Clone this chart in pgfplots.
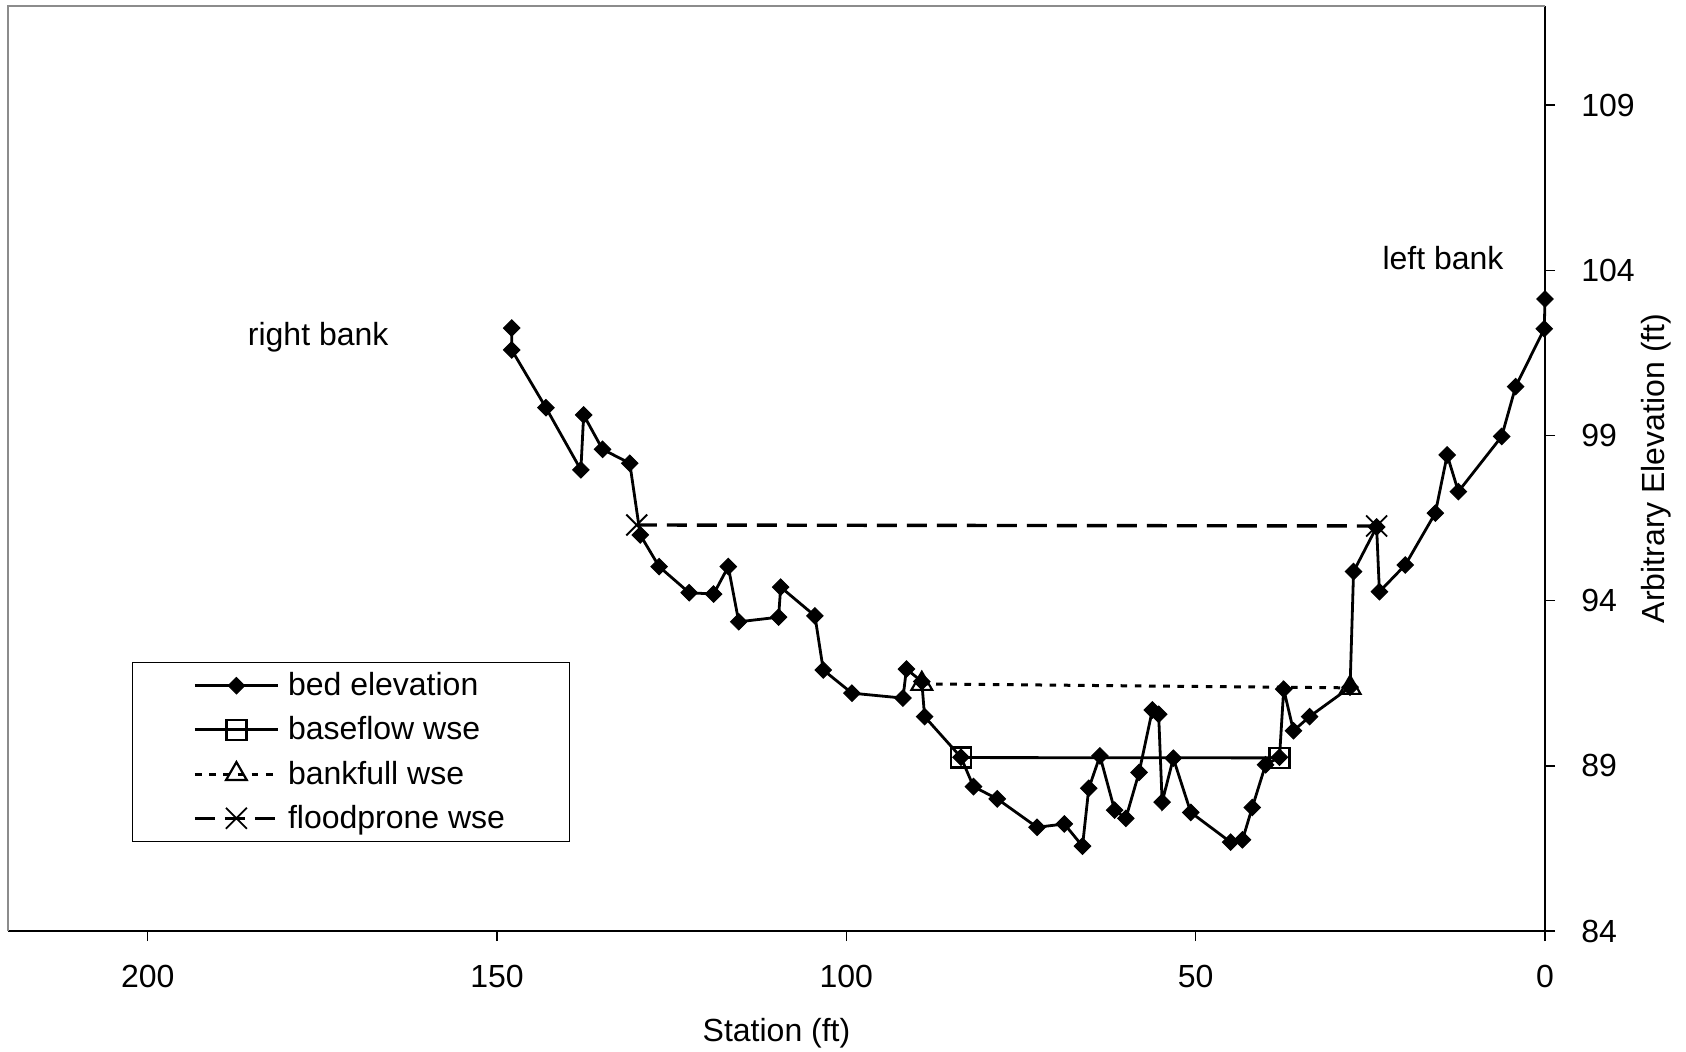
\documentclass[border=0pt]{standalone}
\usepackage{fontspec}
\setmainfont{Liberation Sans}
\usepackage{pgfplots}
\pgfplotsset{compat=1.18}
\begin{document}
\begin{tikzpicture}[font=\fontsize{16}{19.2}\selectfont]
\path[use as bounding box] (-4pt,-60pt) rectangle (839pt,465.5pt);
\begin{axis}[
  at={(0,0)}, anchor=south west,
  scale only axis, width=768.5pt, height=462.5pt,
  x dir=reverse,
  xmin=0, xmax=220, ymin=84, ymax=112,
  xtick={0,50,100,150,200}, ytick={84,89,94,99,104,109},
  axis x line*=bottom, axis y line*=right,
  axis line style={line width=0.7pt, black},
  tick align=outside, major tick length=5pt,
  tick style={line width=0.7pt, black},
  /pgf/number format/assume math mode=true,
  xticklabel style={inner sep=0pt, anchor=center, yshift=-17.5pt},
  yticklabel style={inner sep=0pt, anchor=west, xshift=13pt},
  xlabel={Station (ft)},
  ylabel={Arbitrary Elevation (ft)},
  every axis x label/.style={at={(axis description cs:0.5,0)}, anchor=center, yshift=-51pt},
  every axis y label/.style={at={(axis description cs:1,0.5)}, anchor=center, xshift=55.5pt, rotate=90},
  clip=false,
  legend style={at={(axis description cs:0.0807,0.2908)}, anchor=north west,
    draw=black, line width=0.6pt, fill=white,
    inner xsep=30.3pt, inner ysep=3pt,
    nodes={inner sep=2pt, text depth=0.15em},
    row sep=5pt},
  legend cell align=left,
  legend image code/.code={
    \draw[mark repeat=2,mark phase=2,#1] plot coordinates {(0pt,0pt) (20.75pt,0pt) (41.5pt,0pt)};
    \path (43.7pt,0pt);
  },
]
\draw[color=gray!90, line width=1pt] (axis description cs:0,0) -- (axis description cs:0,1) -- (axis description cs:1,1);

\addplot[black, line width=1.4pt, mark=square*, mark size=2.9pt, mark options={rotate=45, solid, fill=black, line width=0.5pt}] coordinates {
(147.9,102.25) (147.9,101.59) (143.0,99.84) (138.0,97.96) (137.6,99.62)
(134.9,98.58) (131.0,98.16) (129.5,95.99) (126.8,95.03) (122.5,94.24)
(119.0,94.20) (116.9,95.03) (115.4,93.36) (109.7,93.50) (109.4,94.41)
(104.5,93.54) (103.3,91.90) (99.2,91.20) (91.9,91.05) (91.4,91.93)
(89.2,91.55) (88.8,90.49) (83.6,89.26) (81.8,88.37) (78.4,88.00)
(72.7,87.14) (68.8,87.24) (66.2,86.57) (65.3,88.32) (63.7,89.30)
(61.6,87.66) (60.0,87.41) (58.1,88.80) (56.2,90.69) (55.3,90.56)
(54.8,87.90) (53.2,89.23) (50.7,87.59) (45.0,86.69) (43.3,86.76)
(41.9,87.74) (40.0,89.03) (38.0,89.26) (37.4,91.32) (36.0,90.06)
(33.7,90.49) (27.9,91.38) (27.4,94.88) (24.1,96.23) (23.7,94.27)
(20.0,95.08) (15.7,96.65) (14.0,98.41) (12.4,97.30) (6.2,98.97)
(4.2,100.48) (0.1,102.23) (0.0,103.13)
};
\addlegendentry{bed elevation}

\addplot[black, line width=1.4pt, mark=square, mark size=5pt, mark options={solid, line width=1.1pt, fill=none}] coordinates {
(83.6,89.25) (38.0,89.24)
};
\addlegendentry{baseflow wse}

\addplot[black, line width=1.5pt, dash pattern=on 3.3pt off 3.8pt, mark=triangle, mark size=6pt, mark options={solid, line width=1.1pt, fill=none}] coordinates {
(89.2,91.48) (27.9,91.36)
};
\addlegendentry{bankfull wse}

\addplot[black, line width=1.7pt, dash pattern=on 10pt off 5pt, mark=x, mark size=7.4pt, mark options={solid, line width=0.9pt}] coordinates {
(130.0,96.29) (24.1,96.26)
};
\addlegendentry{floodprone wse}

\node at (axis cs:175.6,101.97) {right bank};
\node at (axis cs:14.6,104.37) {left bank};
\end{axis}
\end{tikzpicture}
\end{document}
